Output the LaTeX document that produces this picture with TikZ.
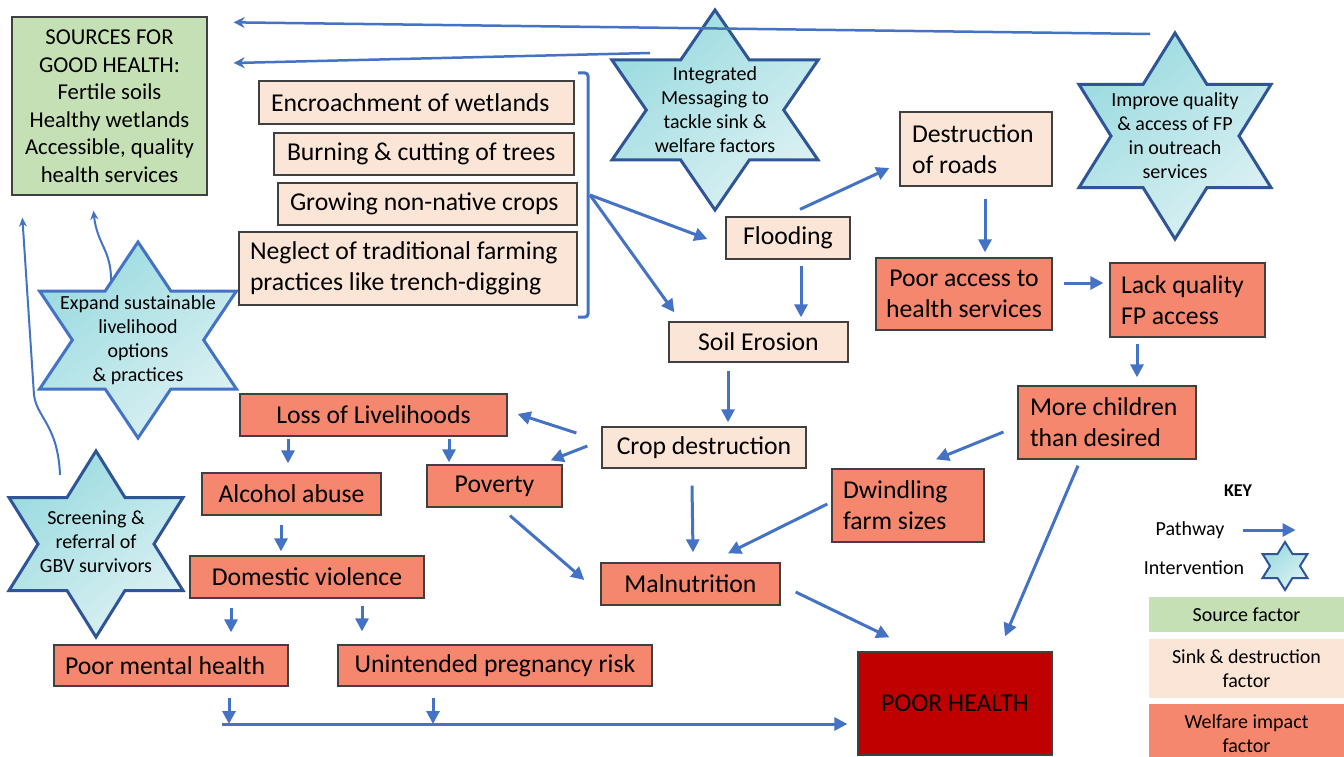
\documentclass[tikz,border=0pt]{standalone}
\usepackage{fontspec}
\setmainfont{Carlito}
\usetikzlibrary{arrows.meta,calc}
\definecolor{arrc}{HTML}{4472C4}
\definecolor{sinkc}{HTML}{FBE5D6}
\definecolor{welfc}{HTML}{F4876D}
\definecolor{srcc}{HTML}{C5E0B4}
\definecolor{phc}{HTML}{C00000}
\definecolor{boxb}{HTML}{404040}
\definecolor{stard}{HTML}{2F5597}
\definecolor{starA}{HTML}{9BDBE0}
\definecolor{starB}{HTML}{DCF1F3}
\newcommand\drawhex[5]{%
  \begin{scope}[shift={(#1,#2)}, xscale=#4]
    \path[#5, top color=starA, bottom color=starB, shading angle=40]
      (90:#3) -- (120:{#3*0.57735}) -- (150:#3) -- (180:{#3*0.57735}) --
      (210:#3) -- (240:{#3*0.57735}) -- (270:#3) -- (300:{#3*0.57735}) --
      (330:#3) -- (0:{#3*0.57735}) -- (30:#3) -- (60:{#3*0.57735}) -- cycle;
  \end{scope}}
\tikzset{
  boxbase/.style={draw=boxb, line width=1.3pt, inner sep=0pt, font=\fontsize{25.7}{31}\selectfont, align=center,
    execute at begin node={\spaceskip=0pt\xspaceskip=0pt\relax}},
  sink/.style={boxbase, fill=sinkc},
  welf/.style={boxbase, fill=welfc},
  arr/.style={draw=arrc, line width=3pt, -{Triangle[length=13pt,width=13pt]}},
  thinarr/.style={draw=arrc, line width=2.5pt, -{Stealth[length=11pt,width=11pt]}},
  curvarr/.style={draw=arrc, line width=2pt, -{Stealth[length=9pt,width=8pt]}},
  stxt/.style={align=center, inner sep=0pt, font=\fontsize{20}{24}\selectfont},
  ktxt/.style={inner sep=0pt, font=\fontsize{20}{24}\selectfont},
  kbox/.style={inner sep=0pt, align=center, minimum width=195pt, font=\fontsize{20}{24}\selectfont},
}
\begin{document}
\begin{tikzpicture}[x=1pt,y=-1pt]
\useasboundingbox (0,0) rectangle (1344,757);
\fill[white] (0,0) rectangle (1344,757);

% stars
\drawhex{715}{110}{100}{1.19}{draw=stard, line width=3pt}
\drawhex{1175}{136}{103}{1.076}{draw=stard, line width=3pt}
\drawhex{138}{340}{98}{1.16}{draw=arrc, line width=3pt}
\drawhex{96}{544}{93}{1.08}{draw=stard, line width=3pt}
\drawhex{1285}{566}{24}{1.08}{draw=stard, line width=2pt}

\node[stxt] (intg) at (715,110) {Integrated\\Messaging to\\tackle sink \&\\welfare factors};
\node[stxt] (impr) at (1175,136) {Improve quality\\\& access of FP\\in outreach\\services};
\node[stxt] (expd) at (138,340) {Expand sustainable\\livelihood\\options\\\& practices};
\node[stxt] (scrn) at (96,542) {Screening \&\\referral of\\GBV survivors};

% boxes
\node[boxbase, fill=srcc, minimum width=195pt, minimum height=178pt, font=\fontsize{22.7}{27.5}\selectfont] (src) at (109.5,106)
  {SOURCES FOR\\GOOD HEALTH:\\Fertile soils\\Healthy wetlands\\Accessible, quality\\health services};
\node[sink, minimum width=315pt, minimum height=43pt, text width=291pt, align=left] (enc) at (416.5,102.5) {Encroachment of wetlands};
\node[sink, minimum width=300pt, minimum height=42pt, text width=274pt, align=left] (burn) at (424,154) {Burning \& cutting of trees};
\node[sink, minimum width=299pt, minimum height=42pt, text width=275pt, align=left] (grow) at (427.5,204) {Growing non-native crops};
\node[sink, minimum width=338pt, minimum height=73pt, text width=316pt, align=left] (negl) at (408,268.5) {Neglect of traditional farming\\practices like trench-digging};
\node[sink, minimum width=124pt, minimum height=42pt] (flood) at (788,238) {Flooding};
\node[sink, minimum width=152pt, minimum height=74pt, text width=128pt, align=left] (dest) at (976,149) {Destruction\\of roads};
\node[sink, minimum width=179pt, minimum height=40pt] (soil) at (758.5,342) {Soil Erosion};
\node[welf, minimum width=176pt, minimum height=72pt] (acc) at (964,294) {Poor access to\\health services};
\node[welf, minimum width=155pt, minimum height=74pt, text width=133pt, align=left] (lack) at (1187.5,300) {Lack quality\\FP access};
\node[welf, minimum width=178pt, minimum height=73pt, text width=154pt, align=left] (more) at (1107,422.5) {More children\\than desired};
\node[welf, minimum width=152pt, minimum height=73pt, text width=130pt, align=left] (dwind) at (908,505.5) {Dwindling\\farm sizes};
\node[sink, minimum width=204pt, minimum height=41pt] (crop) at (704,447.5) {Crop destruction};
\node[welf, minimum width=179pt, minimum height=42pt] (maln) at (690.5,584) {Malnutrition};
\node[boxbase, fill=phc, minimum width=194pt, minimum height=103pt] (ph) at (955,703.5) {POOR HEALTH};
\node[welf, minimum width=267pt, minimum height=42pt] (lol) at (373.5,415) {Loss of Livelihoods};
\node[welf, minimum width=135pt, minimum height=42pt] (pov) at (494.5,486) {Poverty};
\node[welf, minimum width=179pt, minimum height=42pt] (alc) at (291.5,494) {Alcohol abuse};
\node[welf, minimum width=234pt, minimum height=42pt] (dv) at (307,577) {Domestic violence};
\node[welf, minimum width=234pt, minimum height=41pt, text width=212pt, align=left] (pmh) at (171,665.5) {Poor mental health};
\node[welf, minimum width=314pt, minimum height=41pt] (upr) at (495,665.5) {Unintended pregnancy risk};

% bracket
\draw[arrc, line width=3pt, rounded corners=3pt] (578,73) -- (588,73) -- (588,317) -- (578,317);
\coordinate (brk) at (590,195);
\draw[arr] (brk) -- ([xshift=-18pt,yshift=-1pt]flood.west);
\draw[arr] (brk) -- ([xshift=6pt,yshift=9pt]soil.north west);

% top arrows
\coordinate (t1) at (1150,34);
\coordinate (t2) at (650,53);
\draw[thinarr] (t1) -- ([xshift=26pt,yshift=-6pt]src.north east);
\draw[thinarr] (t2) -- ([xshift=26pt,yshift=43pt]src.east);

% curved arrows from stars to sources
\draw[curvarr] ([xshift=-27pt,yshift=57pt]expd.center) .. controls (112,250) and (97,245) .. ([xshift=-16pt,yshift=-15pt]src.south);
\draw[curvarr] ([xshift=-36pt,yshift=67pt]scrn.center) .. controls (58,425) and (37,418) .. (34,395) -- ([xshift=11pt,yshift=-22pt]src.south west);

% pathways
\draw[arr] ([xshift=12pt,yshift=7pt]flood.north) -- ([xshift=-10pt,yshift=-19pt]dest.west);
\draw[arr] ([xshift=13pt,yshift=-6pt]flood.south) -- ([xshift=42.5pt,yshift=4pt]soil.north);
\draw[arr] ([xshift=9pt,yshift=-12pt]dest.south) -- ([xshift=21pt,yshift=5pt]acc.north);
\draw[arr] ([xshift=11pt,yshift=11pt]acc.east) -- ([xshift=-6pt,yshift=17pt]lack.west);
\draw[arr] ([xshift=-50.5pt,yshift=-6pt]lack.south) -- ([xshift=30pt,yshift=8pt]more.north);
\draw[arr] ([xshift=-14pt,yshift=-9.5pt]more.west) -- ([xshift=28pt,yshift=9pt]dwind.north);
\draw[arr] ([xshift=-29pt,yshift=-6pt]more.south) -- ([xshift=50pt,yshift=15pt]ph.north);
\draw[arr] ([xshift=-4pt,yshift=1.5pt]dwind.west) -- ([xshift=37.5pt,yshift=9pt]maln.north);
\draw[arr] ([xshift=-30.5pt,yshift=-8pt]soil.south) -- ([xshift=24pt,yshift=4pt]crop.north);
\draw[arr] ([xshift=-12pt,yshift=-17pt]crop.south) -- ([xshift=2.5pt,yshift=10pt]maln.north);
\draw[arr] ([xshift=15pt,yshift=-8pt]maln.east) -- ([xshift=32pt,yshift=14pt]ph.north west);
\draw[arr] ([xshift=-25pt,yshift=14.5pt]crop.west) -- ([xshift=10pt,yshift=1pt]lol.east);
\draw[arr] ([xshift=-14pt,yshift=1.5pt]crop.west) -- ([xshift=-12pt,yshift=4pt]pov.north east);
\draw[arr] ([xshift=15.5pt,yshift=-8pt]pov.south) -- ([xshift=-16pt,yshift=4pt]maln.west);
\draw[arr] ([xshift=-85.5pt,yshift=-2pt]lol.south) -- ([xshift=-3.5pt,yshift=9pt]alc.north);
\draw[arr] ([xshift=75.5pt,yshift=-2pt]lol.south) -- ([xshift=-45.5pt,yshift=2pt]pov.north);
\draw[arr] ([xshift=-10.5pt,yshift=-9pt]alc.south) -- ([xshift=-26pt,yshift=4pt]dv.north);
\draw[arr] ([xshift=-76pt,yshift=-9pt]dv.south) -- ([xshift=60pt,yshift=12pt]pmh.north);
\draw[arr] ([xshift=55pt,yshift=-7pt]dv.south) -- ([xshift=-133pt,yshift=13pt]upr.north);

% bottom line
\coordinate (bl) at (222,724);
\coordinate (j1) at (229,724);
\coordinate (j2) at (433,724);
\draw[arr] (bl) -- ([xshift=-10pt,yshift=-20.5pt]ph.west);
\draw[arr] ([xshift=58pt,yshift=-11pt]pmh.south) -- (j1);
\draw[arr] ([xshift=-62pt,yshift=-11pt]upr.south) -- (j2);

% key
\node[inner sep=0pt, font=\bfseries\fontsize{18}{22}\selectfont] (key) at (1238,491) {KEY};
\node[ktxt] (kpath) at (1190,530) {Pathway};
\draw[arr] ([xshift=18pt]kpath.east) -- ++(53,0);
\node[ktxt] (kint) at (1194,568) {Intervention};
\node[kbox, fill=srcc, minimum height=35pt] (ksrc) at (1246.5,614.5) {Source factor};
\node[kbox, fill=sinkc, minimum height=59pt] (ksink) at (1246.5,668.5) {Sink \& destruction\\factor};
\node[kbox, fill=welfc, minimum height=60pt] (kwelf) at (1246.5,734) {Welfare impact\\factor};
\end{tikzpicture}
\end{document}
